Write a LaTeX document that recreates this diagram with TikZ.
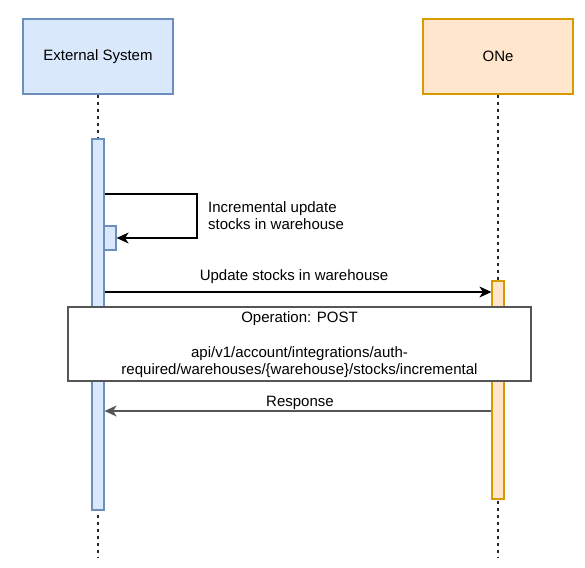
\documentclass[tikz,border=0pt]{standalone}
\usepackage{fontspec}
\setmainfont{Liberation Sans}
\usetikzlibrary{arrows.meta}
\definecolor{bluefill}{HTML}{DAE8FC}
\definecolor{bluedraw}{HTML}{6C8EBF}
\definecolor{orfill}{HTML}{FFE6CC}
\definecolor{ordraw}{HTML}{D79B00}
\definecolor{darkline}{HTML}{555555}
\begin{document}
\begin{tikzpicture}[x=1pt,y=-1pt,
  every node/.style={font=\fontsize{15}{17.5}\selectfont, inner sep=0pt},
  participant/.style={draw, line width=1.25pt, minimum width=150pt, minimum height=75pt},
  extp/.style={participant, fill=bluefill, draw=bluedraw},
  onep/.style={participant, fill=orfill, draw=ordraw},
  actbar/.style={draw, line width=1.25pt, minimum width=12pt},
  extact/.style={actbar, fill=bluefill, draw=bluedraw},
  oneact/.style={actbar, fill=orfill, draw=ordraw},
  lifeline/.style={line width=1.1pt, black!85, dash pattern=on 3.5pt off 3.5pt},
  msg/.style={line width=1.25pt, -{Stealth[length=12pt,width=11pt,inset=3.5pt]}},
  opbox/.style={draw=darkline, fill=white, line width=1.6pt, minimum width=463pt, minimum height=74pt}
]
\useasboundingbox (0,0) rectangle (585,567);
\fill[white] (0,0) rectangle (585,567);

\node[extp] (es) at (98,56.5) {External System};
\node[onep] (on) at (498,56.5) {ONe};

\coordinate (esend) at (98,557);
\coordinate (onend) at (498,557);
\draw[lifeline] (es.south) -- (esend);
\draw[lifeline] (on.south) -- (onend);

\node[extact, minimum height=371pt] (esact) at (98,324.5) {};
\node[extact, minimum height=24pt] (selfact) at (110,238) {};
\node[oneact, minimum height=218pt] (onact) at (498,390) {};

% self message
\coordinate (s1) at (0,194);
\coordinate (s2) at (197,194);
\coordinate (s3) at (197,238);
\draw[msg] (esact.east |- s1) -- (s2) -- (s3) -- (selfact.east);
\node[anchor=north west, align=left] (selflbl) at (208,201) {Incremental update\\stocks in warehouse};

% update message
\coordinate (u) at (0,292);
\draw[msg] (esact.east |- u) -- (onact.west |- u);
\node[anchor=base] (updlbl) at (294,280) {Update stocks in warehouse};

% operation box
\node[opbox, align=center] (op) at (299.5,344) {};
\node[align=center, anchor=north] (optext) at (299.5,311) {Operation: POST\\[17.5pt]api/v1/account/integrations/auth-\\required/warehouses/\{warehouse\}/stocks/incremental};

% response
\coordinate (r) at (0,411);
\draw[msg, darkline, line width=1.5pt] (onact.west |- r) -- (esact.east |- r);
\node[anchor=base] (resplbl) at (300,406) {Response};
\end{tikzpicture}
\end{document}
